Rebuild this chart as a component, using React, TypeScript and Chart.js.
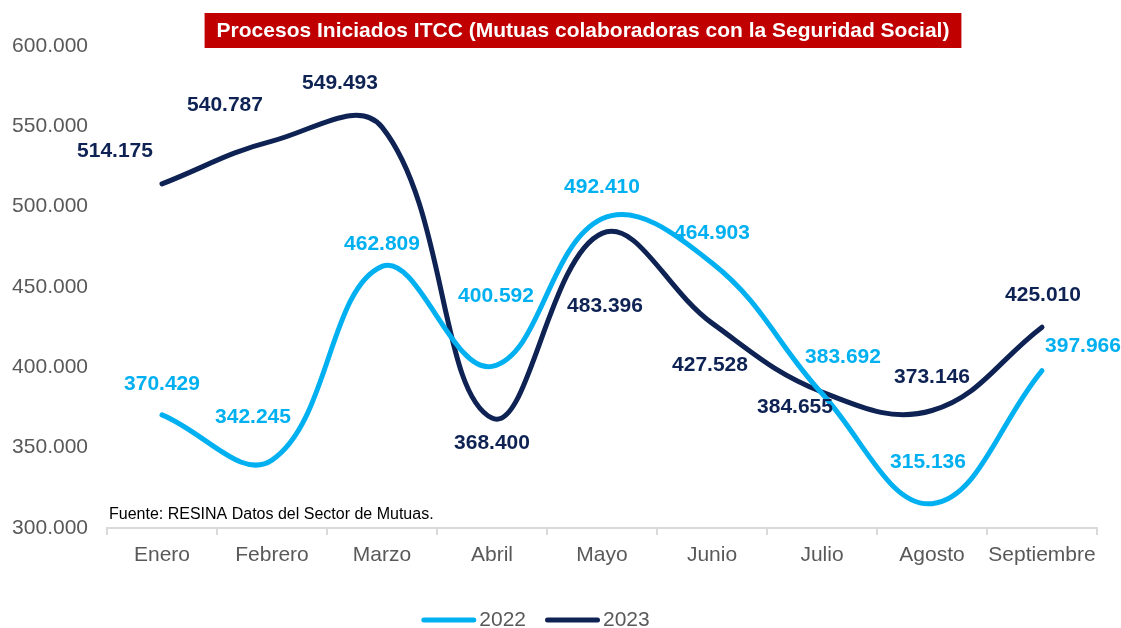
import React, { useEffect, useRef } from 'react';
import { Chart, registerables } from 'chart.js';

Chart.register(...registerables);

const months = ['Enero', 'Febrero', 'Marzo', 'Abril', 'Mayo', 'Junio', 'Julio', 'Agosto', 'Septiembre'];
const values2022 = [370429, 342245, 462809, 400592, 492410, 464903, 383692, 315136, 397966];
const values2023 = [514175, 540787, 549493, 368400, 483396, 427528, 384655, 373146, 425010];
const seriesNames = ['2022', '2023'];
const yMin = 300000;
const yMax = 600000;
const yStep = 50000;

const titleText = 'Procesos Iniciados ITCC (Mutuas colaboradoras con la Seguridad Social)';
const sourceText = 'Fuente: RESINA Datos del Sector de Mutuas.';

const COLOR_2022 = '#00B0F0';
const COLOR_2023 = '#0E2354';
const AXIS_TEXT = '#595959';
const FONT = '"Liberation Sans", Arial, Helvetica, sans-serif';

// label offsets in pixels relative to each point (styling only)
const labelOffsets2022 = [[0, -31], [-19, -43], [0, -22], [4, -70], [0, -32], [0, -30], [21, -36], [-4, -41], [41, -24]];
const labelOffsets2023 = [[-47, -33], [-47, -36], [-42, -44], [0, 25], [3, 73], [-2, 42], [-27, 15], [0, -33], [1, -32]];

const fmt = (n: number) => Math.round(n).toString().replace(/\B(?=(\d{3})+(?!\d))/g, '.');

const dataLabelPlugin = {
  id: 'dataLabels',
  afterDatasetsDraw(chart: any) {
    const ctx = chart.ctx;
    const offsets = [labelOffsets2022, labelOffsets2023];
    ctx.save();
    ctx.font = `bold 21px ${FONT}`;
    ctx.textAlign = 'center';
    ctx.textBaseline = 'middle';
    chart.data.datasets.forEach((ds: any, di: number) => {
      const meta = chart.getDatasetMeta(di);
      ctx.fillStyle = ds.borderColor;
      meta.data.forEach((pt: any, i: number) => {
        const off = offsets[di][i];
        ctx.fillText(fmt(ds.data[i]), pt.x + off[0], pt.y + off[1]);
      });
    });
    ctx.restore();
  },
};

const decorPlugin = {
  id: 'decor',
  afterDraw(chart: any) {
    const ctx = chart.ctx;
    ctx.save();
    // title box
    ctx.font = `bold 21px ${FONT}`;
    const tw = ctx.measureText(titleText).width;
    const cx = 583;
    ctx.fillStyle = '#C00000';
    ctx.fillRect(cx - tw / 2 - 12, 13, tw + 24, 35);
    ctx.fillStyle = '#FFFFFF';
    ctx.textAlign = 'center';
    ctx.textBaseline = 'middle';
    ctx.fillText(titleText, cx, 31);

    // source note
    ctx.font = `16px ${FONT}`;
    ctx.fillStyle = '#000000';
    ctx.textAlign = 'left';
    ctx.fillText(sourceText, 109, 515);

    // legend
    ctx.font = `21px ${FONT}`;
    const lineW = 50;
    const gap = 6;
    const itemGap = 16;
    const items = chart.data.datasets.map((ds: any) => ({
      label: ds.label,
      color: ds.borderColor,
      w: lineW + 5 + gap + ctx.measureText(ds.label).width,
    }));
    const total = items.reduce((s: number, it: any) => s + it.w, 0) + itemGap * (items.length - 1);
    let x = 537 - total / 2;
    const y = 620;
    items.forEach((it: any) => {
      ctx.strokeStyle = it.color;
      ctx.lineWidth = 5;
      ctx.lineCap = 'round';
      ctx.beginPath();
      ctx.moveTo(x + 2.5, y);
      ctx.lineTo(x + 2.5 + lineW, y);
      ctx.stroke();
      ctx.fillStyle = AXIS_TEXT;
      ctx.textAlign = 'left';
      ctx.fillText(it.label, x + lineW + 5 + gap - 3, y);
      x += it.w + itemGap;
    });
    ctx.restore();
  },
};

export default function App() {
  const canvasRef = useRef<HTMLCanvasElement | null>(null);

  useEffect(() => {
    if (!canvasRef.current) return;
    const chart = new Chart(canvasRef.current, {
      type: 'line',
      data: {
        labels: months,
        datasets: [
          {
            label: seriesNames[0],
            data: values2022,
            borderColor: COLOR_2022,
            backgroundColor: COLOR_2022,
            borderWidth: 5,
            pointRadius: 0,
            tension: 0.4,
            borderCapStyle: 'round',
            borderJoinStyle: 'round',
            fill: false,
          },
          {
            label: seriesNames[1],
            data: values2023,
            borderColor: COLOR_2023,
            backgroundColor: COLOR_2023,
            borderWidth: 5,
            pointRadius: 0,
            tension: 0.4,
            borderCapStyle: 'round',
            borderJoinStyle: 'round',
            fill: false,
          },
        ],
      },
      options: {
        responsive: false,
        animation: false,
        layout: { padding: { top: 46, right: 24, bottom: 0, left: 0 } },
        plugins: {
          legend: { display: false },
          title: { display: false },
          tooltip: { enabled: false },
        },
        scales: {
          x: {
            offset: true,
            grid: {
              display: true,
              drawOnChartArea: false,
              drawTicks: true,
              tickLength: 7,
              color: '#D9D9D9',
              lineWidth: 2,
              offset: true,
            },
            border: { display: true, color: '#D9D9D9', width: 2 },
            ticks: {
              color: AXIS_TEXT,
              font: { family: FONT, size: 21 },
              padding: 8,
              maxRotation: 0,
              autoSkip: false,
            },
            afterFit(scale: any) {
              scale.height = 100;
            },
          },
          y: {
            min: yMin,
            max: yMax,
            grid: { display: false, drawTicks: false },
            border: { display: false },
            ticks: {
              stepSize: yStep,
              color: AXIS_TEXT,
              font: { family: FONT, size: 21 },
              padding: 19,
              callback: (v: any) => fmt(Number(v)),
            },
            afterFit(scale: any) {
              scale.width = 107;
            },
          },
        },
      },
      plugins: [dataLabelPlugin, decorPlugin],
    } as any);
    return () => chart.destroy();
  }, []);

  return (
    <div style={{ position: 'absolute', left: 0, top: 0, width: 1121, height: 628, background: '#FFFFFF' }}>
      <canvas ref={canvasRef} width={1121} height={628} style={{ display: 'block' }} />
    </div>
  );
}
